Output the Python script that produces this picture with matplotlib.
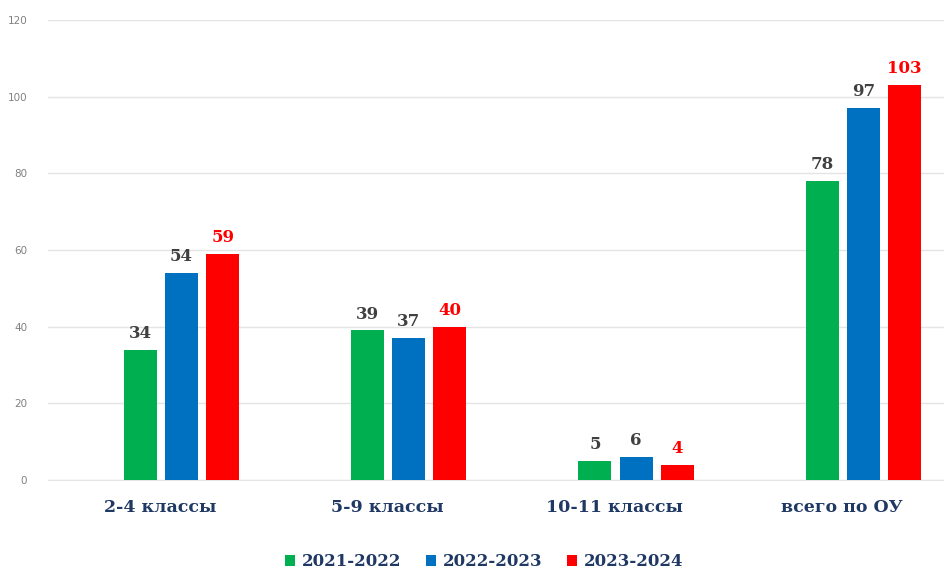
import numpy as np
import matplotlib.pyplot as plt

# data
categories = ['2-4 классы', '5-9 классы', '10-11 классы', 'всего по ОУ']
years = ['2021-2022', '2022-2023', '2023-2024']
vals_2122 = [34, 39, 5, 78]
vals_2223 = [54, 37, 6, 97]
vals_2324 = [59, 40, 4, 103]

series = [vals_2122, vals_2223, vals_2324]
colors = ['#00B050', '#0070C0', '#FF0000']
label_colors = ['#404040', '#404040', '#FF0000']
offsets = [-0.086, 0.095, 0.276]
bar_w = 0.145

fig = plt.figure(figsize=(9.44, 5.69), dpi=100)
ax = fig.add_axes([0.0508, 0.1564, 0.9492, 0.8085])

x = np.arange(len(categories))
for vals, yr, c, lc, off in zip(series, years, colors, label_colors, offsets):
    bars = ax.bar(x + off, vals, width=bar_w, color=c, label=yr, zorder=3)
    for b, v in zip(bars, vals):
        ax.text(b.get_x() + b.get_width() / 2, v + 2.0, str(v), ha='center', va='bottom',
                fontsize=12, fontweight='bold', color=lc, family='DejaVu Serif')

ax.set_xlim(-0.493, 3.45)
ax.set_ylim(0, 120)
ax.set_yticks(range(0, 121, 20))
ax.grid(axis='y', color='#E4E4E4', linewidth=1, zorder=0)
for s in ['top', 'right', 'left']:
    ax.spines[s].set_visible(False)
ax.spines['bottom'].set_color('#E4E4E4')
ax.tick_params(axis='y', length=0, pad=15, labelsize=7.5, labelcolor='#808080')
ax.tick_params(axis='x', length=0, pad=14)
ax.set_xticks(x)
ax.set_xticklabels(categories, fontsize=12.5, fontweight='bold', color='#1F3864',
                   family='DejaVu Serif')

leg = ax.legend(loc='center', bbox_to_anchor=(0.487, -0.178), ncol=3, frameon=False,
                handlelength=0.6, handleheight=0.6, handletextpad=0.4, columnspacing=1.5,
                prop={'family': 'DejaVu Serif', 'weight': 'bold', 'size': 12})
for t in leg.get_texts():
    t.set_color('#1F3864')

fig.savefig('out.png', dpi=100)
